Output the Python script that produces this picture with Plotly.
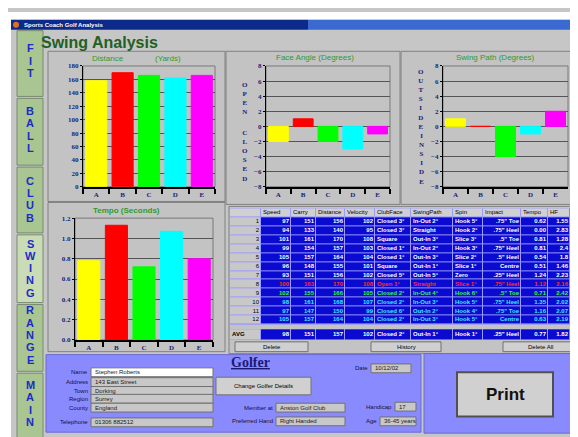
import plotly.graph_objects as go

W, H = 578, 437
def px(x): return x / W
def py(y): return 1 - y / H

# ---------------- data ----------------
shots = ["A", "B", "C", "D", "E"]
bar_colors = ["#ffff00", "#ff0000", "#00ff00", "#00ffff", "#ff00ff"]
distance_yards = [158, 170, 166, 162, 166]
face_angle_deg = [-2, 1, -2, -3, -1]
swing_path_deg = [1, 0, -4, -1, 2]
tempo_sec = [0.78, 1.13, 0.72, 1.07, 0.80]

row_no = [str(i) for i in range(1, 13)]
speed = [97, 94, 101, 99, 105, 96, 93, 100, 102, 98, 97, 105]
carry = [151, 133, 161, 154, 157, 148, 151, 163, 155, 161, 147, 157]
dist_col = [156, 140, 170, 157, 164, 155, 156, 170, 166, 168, 150, 164]
velocity = [102, 95, 108, 103, 104, 101, 102, 108, 105, 107, 99, 104]
clubface = ["Closed 3°", "Closed 3°", "Square", "Closed 1°", "Closed 1°", "Square",
            "Closed 5°", "Open 1°", "Closed 2°", "Closed 2°", "Closed 6°", "Closed 2°"]
swingpath = ["In-Out 2°", "Straight", "Out-In 3°", "In-Out 2°", "Out-In 3°", "Out-In 1°",
             "Out-In 5°", "Straight", "In-Out 4°", "In-Out 3°", "Out-In 2°", "In-Out 3°"]
spin = ["Hook 5°", "Hook 2°", "Slice 3°", "Hook 3°", "Slice 2°", "Slice 1°",
        "Zero", "Slice 1°", "Hook 6°", "Hook 5°", "Hook 4°", "Hook 5°"]
impact = ['.75" Toe', '.75" Heel', '.5" Toe', '.75" Heel', '.5" Heel', 'Centre',
          '.25" Heel', '.75" Heel', '.5" Toe', '.75" Heel', '.75" Toe', 'Centre']
tempo_col = [0.62, 0.00, 0.81, 0.81, 0.54, 0.51, 1.24, 1.12, 0.71, 1.35, 1.16, 0.63]
hf = [1.55, 2.83, 1.28, 2.4, 1.8, 1.46, 2.23, 2.16, 2.42, 2.02, 2.07, 2.19]
row_text_colors = ["white"] * 7 + ["#ff3030", "#30ff30", "#40e8ff", "#40e8ff", "#40e8ff"]
header = ["", "Speed", "Carry", "Distance", "Velocity", "ClubFace", "SwingPath",
          "Spin", "Impact", "Tempo", "HF"]
avg_row = ["AVG", "98", "151", "157", "102", "Closed 2°", "Out-In 1°", "Hook 1°",
           '.25" Heel', "0.77", "1.82"]

golfer_labels = ["Name", "Address", "Town", "Region", "County", "Telephone"]
golfer_values = ["Stephen Roberts", "143 East Street", "Dorking", "Surrey", "England",
                 "01306 882512"]
tabs = ["FIT", "BALL", "CLUB", "SWING", "RANGE", "MAIN"]

# ---------------- figure ----------------
fig = go.Figure()
shapes, annots = [], []

def rect(x0, y0, x1, y1, fill, line="#808080", lw=1, layer="below"):
    shapes.append(dict(type="rect", xref="paper", yref="paper", x0=px(x0), x1=px(x1),
                       y0=py(y1), y1=py(y0), fillcolor=fill,
                       line=dict(color=line, width=lw), layer=layer))

def text(x, y, s, size=6, color="black", family="Arial", xanchor="center", bold=False):
    if bold:
        s = "<b>" + s + "</b>"
    annots.append(dict(x=px(x), y=py(y), xref="paper", yref="paper", text=s,
                       showarrow=False, xanchor=xanchor, yanchor="middle",
                       font=dict(size=size, color=color, family=family)))

# window background
rect(0, 0, 578, 437, "#ffffff", line="#ffffff", lw=0)
rect(3, 8, 578, 437, "#c6c6c6", line="#c6c6c6", lw=0)
rect(3, 8, 300, 18, "#0c2a8a", line="#0c2a8a", lw=0)
rect(300, 8, 578, 18, "#3a6ad0", line="#3a6ad0", lw=0)
text(14, 13, "Sports Coach Golf Analysis", size=6, color="white", xanchor="left", bold=True)
shapes.append(dict(type="circle", xref="paper", yref="paper", x0=px(5), x1=px(11),
                   y0=py(16), y1=py(10), fillcolor="#e07020", line=dict(width=0)))

# sidebar tabs
tab_bounds = [(19, 86), (88, 156), (158, 225), (227, 296), (298, 366), (368, 437)]
first_letter = [37, 101, 172, 236, 304, 380]
for name, (t0, t1), fy in zip(tabs, tab_bounds, first_letter):
    fill = "#c9dcb6" if name == "SWING" else "#a8c592"
    rect(9, t0, 35, t1, fill, line="#7a8a70", lw=1)
    for i, ch in enumerate(name):
        text(22, fy + 12.5 * i, ch, size=11, color="#1a2cc8", family="Arial", bold=True)

text(31, 31, "Swing Analysis", size=16, color="#236023", family="Liberation Sans, Arial",
     xanchor="left", bold=True)

# chart panels
rect(40, 40, 217, 193, "#c3c3c3")
rect(218, 40, 392, 196, "#c3c3c3")
rect(393, 40, 574, 196, "#c3c3c3")
rect(40, 194, 217, 346, "#c3c3c3")

title_green = "#2f9a2f"
text(100, 47, "Distance", size=8, color=title_green)
text(160, 47, "(Yards)", size=8, color=title_green)
text(307, 46, "Face Angle (Degrees)", size=8, color=title_green)
text(487, 46, "Swing Path (Degrees)", size=8, color=title_green)
text(118, 202, "Tempo (Seconds)", size=8, color=title_green, bold=True)

navy = "#1c1c7a"
def stack(x, y, word):
    annots.append(dict(x=px(x), y=py(y), xref="paper", yref="paper",
                       text="<b>" + "<br>".join(word) + "</b>", showarrow=False,
                       font=dict(size=7, color=navy, family="Liberation Serif"),
                       xanchor="center", yanchor="middle"))
stack(237, 88, "OPEN")
stack(237, 147, "CLOSED")
stack(413, 89, "OUTSIDE")
stack(413, 150, "INSIDE")

# bar charts
plots = [
    ("x", "y", distance_yards, (75, 207), (55, 178), [0, 180], 20, None),
    ("x2", "y2", face_angle_deg, (258, 382), (55, 178), [-8, 8], 2, None),
    ("x3", "y3", swing_path_deg, (435, 560), (55, 178), [-8, 8], 2, None),
    ("x4", "y4", tempo_sec, (67, 205), (210, 334), [0, 1.2], 0.2, ".1f"),
]
tickfont = dict(family="Liberation Serif", size=7, color=navy)
for i, (xa, ya, vals, (x0, x1), (y0, y1), rng, dt, fmt) in enumerate(plots):
    fig.add_trace(go.Bar(x=shots, y=vals, xaxis=xa, yaxis=ya, width=0.8,
                         marker=dict(color=bar_colors, line=dict(color=bar_colors, width=1)),
                         showlegend=False, hoverinfo="skip"))
    rect(x0, y0, x1, y1, "rgba(0,0,0,0)", line="#7a7a7a", lw=1)
    sfx = "" if i == 0 else str(i + 1)
    fig.layout["xaxis" + sfx] = dict(domain=[px(x0), px(x1)], anchor=ya, type="category",
                                    showline=True, linecolor="black", linewidth=2,
                                    ticks="outside", tickson="boundaries", ticklen=5,
                                    tickwidth=2, tickcolor="black", showgrid=False,
                                    tickfont=tickfont, tickprefix="<b>", ticksuffix="</b>",
                                    fixedrange=True)
    fig.layout["yaxis" + sfx] = dict(domain=[py(y1), py(y0)], anchor=xa, range=rng,
                                    dtick=dt, tick0=rng[0], showline=True,
                                    linecolor="black", linewidth=1, showgrid=True,
                                    gridcolor="#555555", gridwidth=1, zeroline=False,
                                    ticks="outside", ticklen=2, tickcolor="black",
                                    tickfont=tickfont, tickformat=fmt,
                                    tickprefix="<b>", ticksuffix="</b>", fixedrange=True)

# ---------------- table (heatmap cells + text on its own axes) ----------------
TX0, TX1, TY0, TY1 = 222, 562, 200, 334
rect(221, 198, 574, 348, "#c3c3c3")
rect(TX0, 200, TX1, 318.5, "#9a9aff", line="#9a9aff", lw=0)
rect(TX0, 323, TX1, 334, "#9a9aff", line="#9a9aff", lw=0)

col_w = [31, 30, 25, 29, 30, 36, 42, 30, 38, 27, 22]
x_edges = [TX0]
for w in col_w:
    x_edges.append(x_edges[-1] + w)
row_h = 118.3 / 13
y_edges = [TY0 + row_h * r for r in range(14)] + [323, 334]   # 13 rows, gap, AVG

n = len(row_no)
z = [[0] * 11]
for r in range(n):
    z.append([1] + [2] * 10)
z.append([None] * 11)
z.append([1] + [2] * 10)
fig.add_trace(go.Heatmap(x=x_edges, y=y_edges, z=z, xaxis="x5", yaxis="y5",
                         colorscale=[[0, "#d0d0d0"], [0.5, "#c8c8c8"], [1, "#0a0ad0"]],
                         zmin=0, zmax=2, showscale=False, xgap=1, ygap=1,
                         hoverinfo="skip"))

cols = [row_no, speed, carry, dist_col, velocity, clubface, swingpath, spin, impact,
        [f"{v:.2f}" for v in tempo_col], [f"{v:g}" for v in hf]]
aligns = ["right", "right", "right", "right", "right", "left", "left", "left", "right",
          "right", "right"]
tx, ty, tt, tc, tp = [], [], [], [], []
def centre(r):
    return (y_edges[r] + y_edges[r + 1]) / 2
for c in range(11):
    left, right = x_edges[c], x_edges[c + 1]
    if header[c]:
        tx.append(left + 2); ty.append(centre(0)); tt.append(header[c])
        tc.append("black"); tp.append("middle right")
    for r in range(n):
        v = str(cols[c][r])
        col = "black" if c == 0 else row_text_colors[r]
        if aligns[c] == "right":
            tx.append(right - 2); tp.append("middle left")
        else:
            tx.append(left + 2); tp.append("middle right")
        ty.append(centre(r + 1)); tt.append(v if c == 0 else "<b>" + v + "</b>")
        tc.append(col)
    if c == 0:
        tx.append(left + 2); tp.append("middle right")
    elif aligns[c] == "right":
        tx.append(right - 2); tp.append("middle left")
    else:
        tx.append(left + 2); tp.append("middle right")
    ty.append(centre(14)); tt.append("<b>" + avg_row[c] + "</b>")
    tc.append("black" if c == 0 else "white")
fig.add_trace(go.Scatter(x=tx, y=ty, text=tt, mode="text", xaxis="x5", yaxis="y5",
                         textposition=tp, textfont=dict(size=6, color=tc, family="Arial"),
                         hoverinfo="skip", showlegend=False, cliponaxis=False))
fig.layout["xaxis5"] = dict(domain=[px(TX0), px(TX1)], range=[TX0, TX1], anchor="y5",
                            visible=False, fixedrange=True)
fig.layout["yaxis5"] = dict(domain=[py(TY1), py(TY0)], range=[TY1, TY0], anchor="x5",
                            visible=False, fixedrange=True)

# scrollbar
rect(562, 200, 570, 318, "#d8d8d8", line="#909090")
rect(562, 200, 570, 208, "#e4e4e4", line="#808080")
rect(562, 310, 570, 318, "#e4e4e4", line="#808080")
text(566, 204, "▴", size=6)
text(566, 314, "▾", size=6)
rect(562, 323, 570, 334, "#a0a0a0", line="#808080")
# buttons
for (b0, b1, lab) in [(227, 300, "Delete"), (363, 433, "History"), (495, 570, "Delete All")]:
    rect(b0, 336, b1, 346, "#d0d0d0", line="#707070")
    text((b0 + b1) / 2, 341, lab, size=6)

# golfer panel
rect(38, 349, 413, 428, "#8a8aff", line="#6a6ad0")
rect(416, 348, 575, 429, "#8a8aff", line="#6a6ad0")
text(242, 357, "<u>Golfer</u>", size=14, color="#1a1a72", family="Liberation Serif",
     bold=True)
ys = [367, 377, 386, 394, 403, 418]
for k, (lab, val, yy) in enumerate(zip(golfer_labels, golfer_values, ys)):
    text(82, yy, lab, size=6, color="#101040", xanchor="right")
    rect(83, yy - 4.5, 205, yy + 4.5, "#ffffff" if k == 0 else "#c8c8c8", line="#707070")
    text(85, yy, val, size=6, color="#202020", xanchor="left")
rect(208, 372, 303, 390, "#d0d0d0", line="#707070")
text(255.5, 381, "Change Golfer Details", size=6)
for lab, val, yy, x0, x1 in [("Member at", "Anston Golf Club", 403, 268, 337),
                              ("Preferred Hand", "Right Handed", 417, 268, 337),
                              ("Date", "10/12/02", 363, 363, 403),
                              ("Handicap", "17", 402, 387, 408),
                              ("Age", "36-45 years", 417, 372, 408)]:
    text(x0 - 1, yy, lab, size=6, color="#101040", xanchor="right")
    rect(x0, yy - 4.5, x1, yy + 4.5, "#c8c8c8", line="#707070")
    text(x0 + 2, yy, val, size=6, color="#202020", xanchor="left")
# print button
rect(449, 367, 545, 412, "#d0d0d0", line="#505050", lw=2)
text(497, 390, "Print", size=17, color="#111111", bold=True)

fig.update_layout(width=W, height=H, margin=dict(l=0, r=0, t=0, b=0),
                  paper_bgcolor="#c6c6c6", plot_bgcolor="rgba(0,0,0,0)",
                  shapes=shapes, annotations=annots, bargap=0.2, showlegend=False)
fig.write_html("out.html")
